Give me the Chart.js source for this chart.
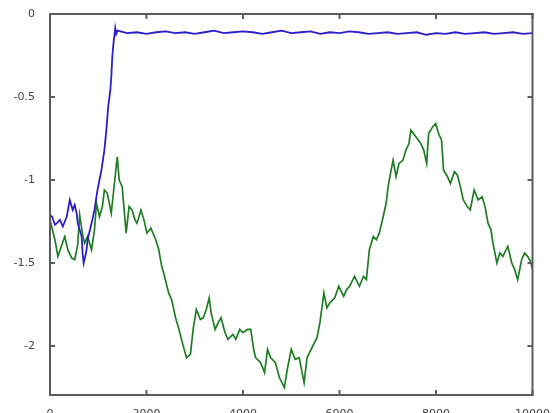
<!DOCTYPE html>
<html>
<head>
<meta charset="utf-8">
<script src="https://cdn.jsdelivr.net/npm/chart.js@4"></script>
<style>
  html, body { margin: 0; padding: 0; background: #fff; overflow: hidden; }
  #wrap { position: relative; width: 555px; height: 413px; }
</style>
</head>
<body>
<div id="wrap"><canvas id="walkChart"></canvas></div>
<script>
const xTicks = [0, 2000, 4000, 6000, 8000, 10000];
const yTicks = [-2, -1.5, -1, -0.5, 0];

const blueX = [0, 41, 102, 143, 205, 266, 307, 348, 410, 471, 512, 553, 574, 615, 656, 676, 697,
  738, 758, 779, 820, 861, 922, 984, 1025, 1066, 1127, 1168, 1209, 1250, 1270, 1291, 1311, 1352, 1373,
  1400, 1600, 1800, 2000, 2200, 2400, 2600, 2800, 3000, 3200, 3400, 3600, 3800, 4000, 4200, 4400,
  4600, 4800, 5000, 5200, 5400, 5600, 5800, 6000, 6200, 6400, 6600, 6800, 7000, 7200, 7400, 7600,
  7800, 8000, 8200, 8400, 8600, 8800, 9000, 9200, 9400, 9600, 9800, 10000];
const blueY = [-1.21, -1.22, -1.27, -1.26, -1.24, -1.28, -1.25, -1.22, -1.12, -1.18, -1.15, -1.20, -1.26,
  -1.30, -1.34, -1.44, -1.50, -1.45, -1.42, -1.36, -1.31, -1.26, -1.18, -1.06, -1.00, -0.94, -0.82,
  -0.70, -0.55, -0.46, -0.38, -0.26, -0.19, -0.085, -0.12,
  -0.10, -0.115, -0.11, -0.12, -0.11, -0.105, -0.115, -0.11, -0.12, -0.11, -0.10, -0.115, -0.11, -0.105,
  -0.11, -0.12, -0.11, -0.10, -0.115, -0.11, -0.105, -0.12, -0.11, -0.115, -0.105, -0.11, -0.12, -0.115,
  -0.11, -0.12, -0.115, -0.11, -0.125, -0.115, -0.12, -0.11, -0.12, -0.115, -0.11, -0.12, -0.115, -0.11,
  -0.12, -0.115];

const greenX = [0, 102, 164, 246, 307, 369, 451, 512, 574, 615, 676, 717, 779, 861, 922, 963, 1025, 1086,
  1127, 1188, 1270, 1332, 1393, 1434, 1496, 1578, 1639, 1701, 1762, 1803, 1885, 1947, 2008, 2090, 2192,
  2254, 2315, 2356, 2459, 2520, 2602, 2664, 2725, 2828, 2910, 2971, 3033, 3115, 3176, 3238, 3299, 3340,
  3422, 3484, 3545, 3627, 3689, 3791, 3852, 3934, 3996, 4098, 4160, 4221, 4262, 4365, 4447, 4508, 4570,
  4672, 4754, 4857, 4918, 5000, 5082, 5164, 5266, 5328, 5430, 5533, 5594, 5676, 5738, 5799, 5902, 5984,
  6086, 6148, 6209, 6311, 6414, 6496, 6557, 6619, 6701, 6762, 6824, 6906, 6967, 7008, 7070, 7111, 7172,
  7234, 7316, 7377, 7439, 7480, 7582, 7684, 7746, 7807, 7848, 7930, 7992, 8053, 8115, 8156, 8238, 8299,
  8381, 8443, 8504, 8566, 8648, 8709, 8791, 8873, 8955, 9016, 9078, 9139, 9180, 9262, 9324, 9385, 9488,
  9570, 9631, 9693, 9775, 9836, 9898, 9959, 10000];
const greenY = [-1.24, -1.36, -1.46, -1.39, -1.34, -1.42, -1.47, -1.48, -1.39, -1.21, -1.33, -1.38, -1.34,
  -1.42, -1.30, -1.14, -1.22, -1.16, -1.06, -1.08, -1.20, -1.03, -0.86, -1.00, -1.04, -1.32, -1.16, -1.18,
  -1.24, -1.26, -1.18, -1.24, -1.32, -1.29, -1.36, -1.42, -1.52, -1.56, -1.68, -1.72, -1.83, -1.89, -1.96,
  -2.07, -2.05, -1.89, -1.78, -1.84, -1.83, -1.78, -1.71, -1.80, -1.90, -1.86, -1.83, -1.92, -1.96, -1.93,
  -1.96, -1.90, -1.92, -1.90, -1.90, -2.02, -2.07, -2.10, -2.16, -2.02, -2.07, -2.10, -2.19, -2.25, -2.14,
  -2.02, -2.08, -2.07, -2.22, -2.07, -2.01, -1.95, -1.86, -1.68, -1.77, -1.74, -1.71, -1.64, -1.70, -1.66,
  -1.64, -1.58, -1.64, -1.58, -1.60, -1.42, -1.34, -1.36, -1.32, -1.22, -1.14, -1.04, -0.94, -0.88, -0.98,
  -0.90, -0.88, -0.82, -0.78, -0.70, -0.74, -0.78, -0.82, -0.90, -0.72, -0.68, -0.66, -0.72, -0.76, -0.94,
  -0.98, -1.02, -0.95, -0.97, -1.04, -1.12, -1.16, -1.18, -1.06, -1.12, -1.10, -1.16, -1.26, -1.30, -1.38,
  -1.50, -1.44, -1.46, -1.40, -1.50, -1.54, -1.60, -1.48, -1.44, -1.46, -1.49, -1.54];

function toPoints(xs, ys) {
  return xs.map((x, i) => ({ x: x, y: ys[i] }));
}

const axisGray = "#5c5c5c";
const tickFont = { family: "DejaVu Sans", size: 11 };

// plot box and inward tick marks, filled as thin bars
const frameBox = {
  id: "frameBox",
  afterDraw(chart) {
    const c = chart.ctx;
    const a = chart.chartArea;
    const w = 2;
    const len = 5;
    c.save();
    c.fillStyle = axisGray;
    c.fillRect(a.left - 1, a.top - 1, a.right - a.left + 2, w);
    c.fillRect(a.left - 1, a.bottom - 1, a.right - a.left + 2, w);
    c.fillRect(a.left - 1, a.top - 1, w, a.bottom - a.top + 2);
    c.fillRect(a.right - 1, a.top - 1, w, a.bottom - a.top + 2);
    xTicks.forEach((v) => {
      const px = chart.scales.x.getPixelForValue(v);
      c.fillRect(px - 1, a.bottom - len, w, len);
      c.fillRect(px - 1, a.top, w, len);
    });
    yTicks.forEach((v) => {
      const py = chart.scales.y.getPixelForValue(v);
      c.fillRect(a.left, py - 1, len, w);
      c.fillRect(a.right - len, py - 1, len, w);
    });
    c.restore();
  },
};

const walkChart = new Chart(document.getElementById("walkChart"), {
  type: "line",
  data: {
    datasets: [
      {
        label: "blue",
        data: toPoints(blueX, blueY),
        borderColor: "#2a1fc8",
        borderWidth: 1.8,
        pointRadius: 0,
        tension: 0,
      },
      {
        label: "green",
        data: toPoints(greenX, greenY),
        borderColor: "#1f7d24",
        borderWidth: 1.7,
        pointRadius: 0,
        tension: 0,
      },
    ],
  },
  options: {
    responsive: true,
    maintainAspectRatio: false,
    animation: false,
    layout: {
      autoPadding: false,
      padding: { top: 14, right: 17, bottom: 0, left: 0 },
    },
    scales: {
      x: {
        type: "linear",
        min: 0,
        max: 10000,
        afterBuildTicks: (scale) => { scale.ticks = xTicks.map((v) => ({ value: v })); },
        afterFit: (scale) => { scale.height = 18; },
        grid: { display: false },
        border: { display: false },
        ticks: {
          padding: 5,
          maxRotation: 0,
          color: "#444",
          font: tickFont,
          callback: (v) => String(v),
        },
      },
      y: {
        min: -2.295,
        max: 0,
        afterBuildTicks: (scale) => { scale.ticks = yTicks.map((v) => ({ value: v })); },
        afterFit: (scale) => { scale.width = 50; },
        grid: { display: false },
        border: { display: false },
        ticks: {
          padding: 7,
          color: "#444",
          font: tickFont,
          callback: (v) => String(v),
        },
      },
    },
    plugins: {
      legend: { display: false },
      tooltip: { enabled: false },
    },
  },
  plugins: [frameBox],
});
</script>
</body>
</html>
